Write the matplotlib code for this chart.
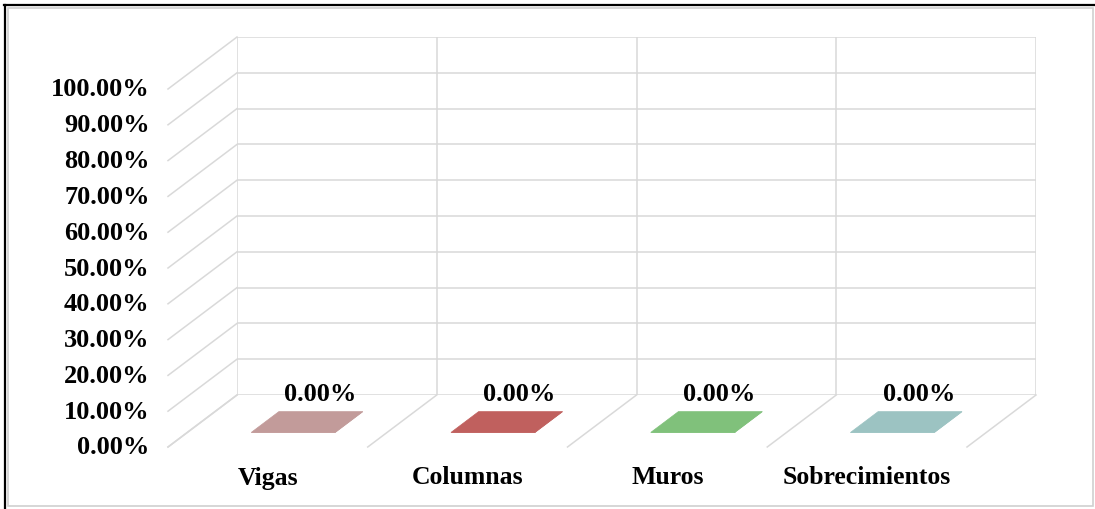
import numpy as np
import matplotlib
matplotlib.use("Agg")
import matplotlib.pyplot as plt
import matplotlib.transforms as mtransforms
from matplotlib.lines import Line2D
from matplotlib.patches import Polygon, Rectangle

# ---- data ----
categories = ["Vigas", "Columnas", "Muros", "Sobrecimientos"]
values = [0.0, 0.0, 0.0, 0.0]
bar_colors = ["#C29B9A", "#C0605E", "#80C17B", "#9CC3C2"]
y_ticks = [0.0, 0.1, 0.2, 0.3, 0.4, 0.5, 0.6, 0.7, 0.8, 0.9, 1.0]
y_tick_labels = [f"{t * 100:.2f}%" for t in y_ticks]

W, H, DPI = 1095, 509, 100
GRID = "#D9D9D9"
NUM_FONT = dict(family="Liberation Serif", weight="bold", size=19, color="black")
CAT_FONT = dict(family="Liberation Serif", weight="bold", size=18.5, color="black")

fig = plt.figure(figsize=(W / DPI, H / DPI), dpi=DPI)
fig.patch.set_facecolor("white")

# back wall of the 3-D plot area
ax = fig.add_axes([237 / W, (H - 395) / H, 799 / W, 358 / H])
ax.set_xlim(0, len(categories))
ax.set_ylim(y_ticks[0], y_ticks[-1])
ax.set_xticks(np.arange(len(categories) + 1))
ax.set_yticks(y_ticks)
ax.grid(True, color=GRID, lw=1.1)
ax.tick_params(length=0, labelbottom=False, labelleft=False)
for s in ax.spines.values():
    s.set_visible(False)
ax.set_facecolor("none")

# oblique depth direction: one unit of depth moves 69 px left, 52 px down
depth_in = np.array([-0.69, -0.52])
o0 = ax.transData.transform((0, 0))
dv = ax.transData.inverted().transform(o0 + depth_in * DPI) - ax.transData.inverted().transform(o0)


def proj(x, v, d):
    return x + d * dv[0], v + d * dv[1]


def shifted(dx_in, dy_in):
    return ax.transData + mtransforms.ScaledTranslation(dx_in, dy_in, fig.dpi_scale_trans)


# side wall and floor lines
for t in y_ticks:
    xs, ys = zip(proj(0, t, 0), proj(0, t, 1))
    ax.plot(xs, ys, color=GRID, lw=1.1, clip_on=False, zorder=1)
for k in range(len(categories) + 1):
    xs, ys = zip(proj(k, y_ticks[0], 0), proj(k, y_ticks[0], 1))
    ax.plot(xs, ys, color=GRID, lw=1.1, clip_on=False, zorder=1)

# bars (box: top, right side and front face)
bw, d0, d1 = 0.42, 0.32, 0.72
for i, (v, c) in enumerate(zip(values, bar_colors)):
    xc = i + 0.5 + 0.03
    x0, x1 = xc - bw / 2, xc + bw / 2
    faces = [
        [proj(x1, 0, d0), proj(x1, v, d0), proj(x1, v, d1), proj(x1, 0, d1)],
        [proj(x0, 0, d1), proj(x1, 0, d1), proj(x1, v, d1), proj(x0, v, d1)],
        [proj(x0, v, d0), proj(x1, v, d0), proj(x1, v, d1), proj(x0, v, d1)],
    ]
    for f in faces:
        ax.add_patch(Polygon(f, closed=True, facecolor=c, edgecolor=c, lw=0.5,
                             clip_on=False, zorder=3))
    ax.text(i + 0.5, v, f"{v * 100:.2f}%", transform=shifted(-0.17, 0.005),
            ha="center", va="center", zorder=4, **NUM_FONT)

# value axis labels at the front edge of the side wall
for t, lab in zip(y_ticks, y_tick_labels):
    ax.text(0, t, lab, transform=shifted(depth_in[0] - 0.185, depth_in[1] - 0.01),
            ha="right", va="center", **NUM_FONT)

# category labels under the front edge of the floor
for i, lab in enumerate(categories):
    ax.text(i + 0.5, y_ticks[0], lab, transform=shifted(depth_in[0], depth_in[1] - 0.31),
            ha="center", va="center", **CAT_FONT)

# chart frame
fig.add_artist(Rectangle((8 / W, 3 / H), 1085 / W, 498 / H, transform=fig.transFigure,
                         fill=False, edgecolor="#D0D0D0", lw=1.2))
fig.add_artist(Line2D([4 / W, 1], [1 - 5 / H, 1 - 5 / H], transform=fig.transFigure,
                      color="black", lw=1.6))
fig.add_artist(Line2D([5 / W, 5 / W], [0, 1 - 5 / H], transform=fig.transFigure,
                      color="black", lw=1.6))

fig.savefig("out.png", dpi=DPI, facecolor="white")
